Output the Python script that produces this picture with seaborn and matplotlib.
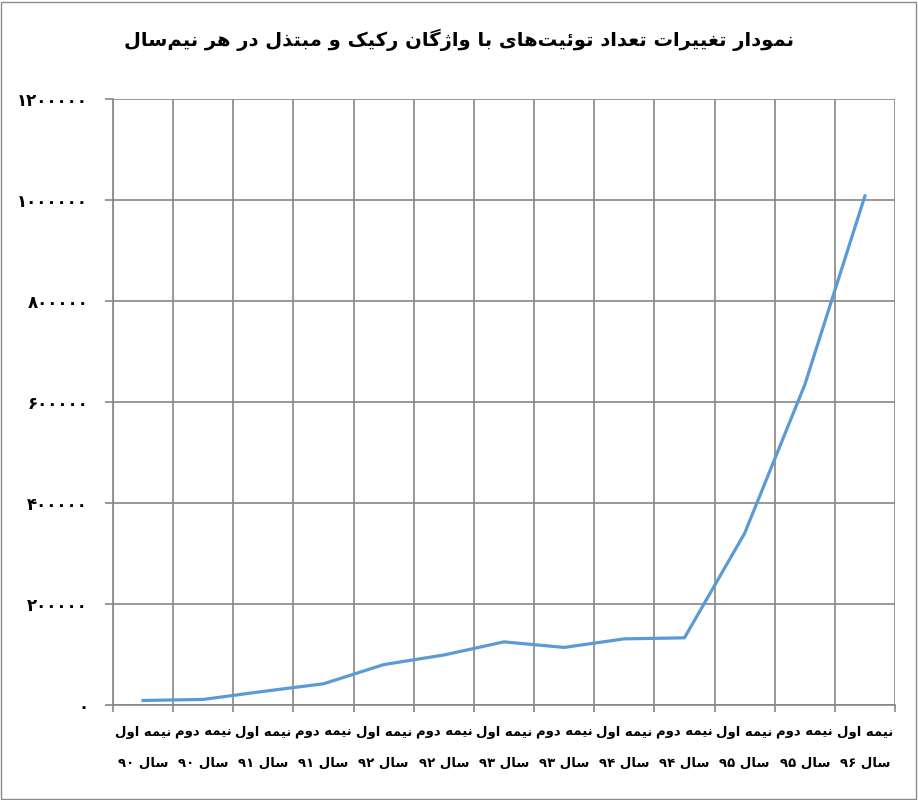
# Persian tweet counts per half-year, rebuilt with seaborn
import numpy as np
import pandas as pd
import matplotlib
matplotlib.use("Agg")
import matplotlib.pyplot as plt
from matplotlib.patches import Rectangle
import seaborn as sns

title = "نمودار تغییرات تعداد توئیت‌های با واژگان رکیک و مبتذل در هر نیم‌سال"
halves = ["نیمه اول", "نیمه دوم"] * 6 + ["نیمه اول"]
years = ["۹۰", "۹۰", "۹۱", "۹۱", "۹۲", "۹۲", "۹۳", "۹۳", "۹۴", "۹۴", "۹۵", "۹۵", "۹۶"]
tweets = [9000, 11000, 27000, 42000, 80000, 99000, 125000,
          114000, 131000, 133000, 340000, 634000, 1008000]
y_ticks = [0, 200000, 400000, 600000, 800000, 1000000, 1200000]

# matplotlib has no arabic shaping, so pick presentation forms by hand
# (isolated, final, initial, medial are consecutive code points)
FORMS = {'ئ': 0xFE89, 'ا': 0xFE8D, 'ب': 0xFE8F, 'ت': 0xFE95, 'د': 0xFEA9,
         'ذ': 0xFEAB, 'ر': 0xFEAD, 'ز': 0xFEAF, 'ژ': 0xFB8A, 'س': 0xFEB1,
         'ع': 0xFEC9, 'غ': 0xFECD, 'ک': 0xFB8E, 'گ': 0xFB92, 'ل': 0xFEDD,
         'م': 0xFEE1, 'ن': 0xFEE5, 'ه': 0xFEE9, 'و': 0xFEED, 'ی': 0xFBFC,
         'پ': 0xFB56}
RIGHT_ONLY = set('اآدذرزژو')
FA_DIGITS = str.maketrans('0123456789', '۰۱۲۳۴۵۶۷۸۹')


def shape_word(word):
    out = []
    for i, ch in enumerate(word):
        if ch not in FORMS:
            if ch != '\u200c':
                out.append(ch)
            continue
        prev = word[i - 1] if i > 0 else ''
        nxt = word[i + 1] if i + 1 < len(word) else ''
        joins_prev = prev in FORMS and prev not in RIGHT_ONLY
        joins_next = ch not in RIGHT_ONLY and nxt in FORMS
        if joins_prev and joins_next:
            k = 3
        elif joins_prev:
            k = 1
        elif joins_next:
            k = 2
        else:
            k = 0
        out.append(chr(FORMS[ch] + k))
    return ''.join(out)


def rtl(text):
    words = []
    for w in text.split(' '):
        if any(c in '۰۱۲۳۴۵۶۷۸۹' for c in w):
            words.append(w)
        else:
            words.append(shape_word(w)[::-1])
    return ' '.join(words[::-1])


df = pd.DataFrame({'pos': np.arange(len(tweets)), 'tweets': tweets})

plt.rcParams['font.family'] = ['DejaVu Sans']
fig = plt.figure(figsize=(9.18, 8), dpi=100)
ax = fig.add_axes([113 / 918, 1 - 705 / 800, (895 - 113) / 918, (705 - 99) / 800])

sns.lineplot(data=df, x='pos', y='tweets', ax=ax, color='#5B9BD5', linewidth=2.3)

grid_c = '#868686'
ax.set_xlim(-0.5, len(tweets) - 0.5)
ax.set_ylim(0, 1200000)
ax.set_yticks(y_ticks)
ax.set_yticklabels([str(v).translate(FA_DIGITS) for v in y_ticks],
                   fontsize=12, fontweight='bold')
ax.set_xticks(np.arange(len(tweets)))
ax.set_xticklabels([rtl(h) + '\n' + rtl('سال ' + y) for h, y in zip(halves, years)],
                   fontsize=9.5, fontweight='bold', linespacing=2.8)
ax.set_xticks(np.arange(len(tweets) + 1) - 0.5, minor=True)
ax.tick_params(axis='x', which='major', length=0, pad=15)
ax.tick_params(axis='x', which='minor', length=5, color=grid_c, width=1.2)
ax.tick_params(axis='y', length=6, color=grid_c, width=1.2, pad=12)
ax.grid(axis='y', which='major', color=grid_c, linewidth=1.2)
ax.grid(axis='x', which='minor', color=grid_c, linewidth=1.2)
ax.set_axisbelow(True)
for s in ['top', 'right']:
    ax.spines[s].set_visible(False)
for s in ['left', 'bottom']:
    ax.spines[s].set_color(grid_c)
    ax.spines[s].set_linewidth(1.2)
ax.set_xlabel('')
ax.set_ylabel('')

fig.text(0.5, 1 - 40 / 800, rtl(title), ha='center', va='center',
         fontsize=14, fontweight='bold')
fig.patches.append(Rectangle((0.001, 0.001), 0.997, 0.997, transform=fig.transFigure,
                             fill=False, edgecolor='#8c8c8c', linewidth=1))

fig.savefig('out.png', dpi=100)
plt.close()
